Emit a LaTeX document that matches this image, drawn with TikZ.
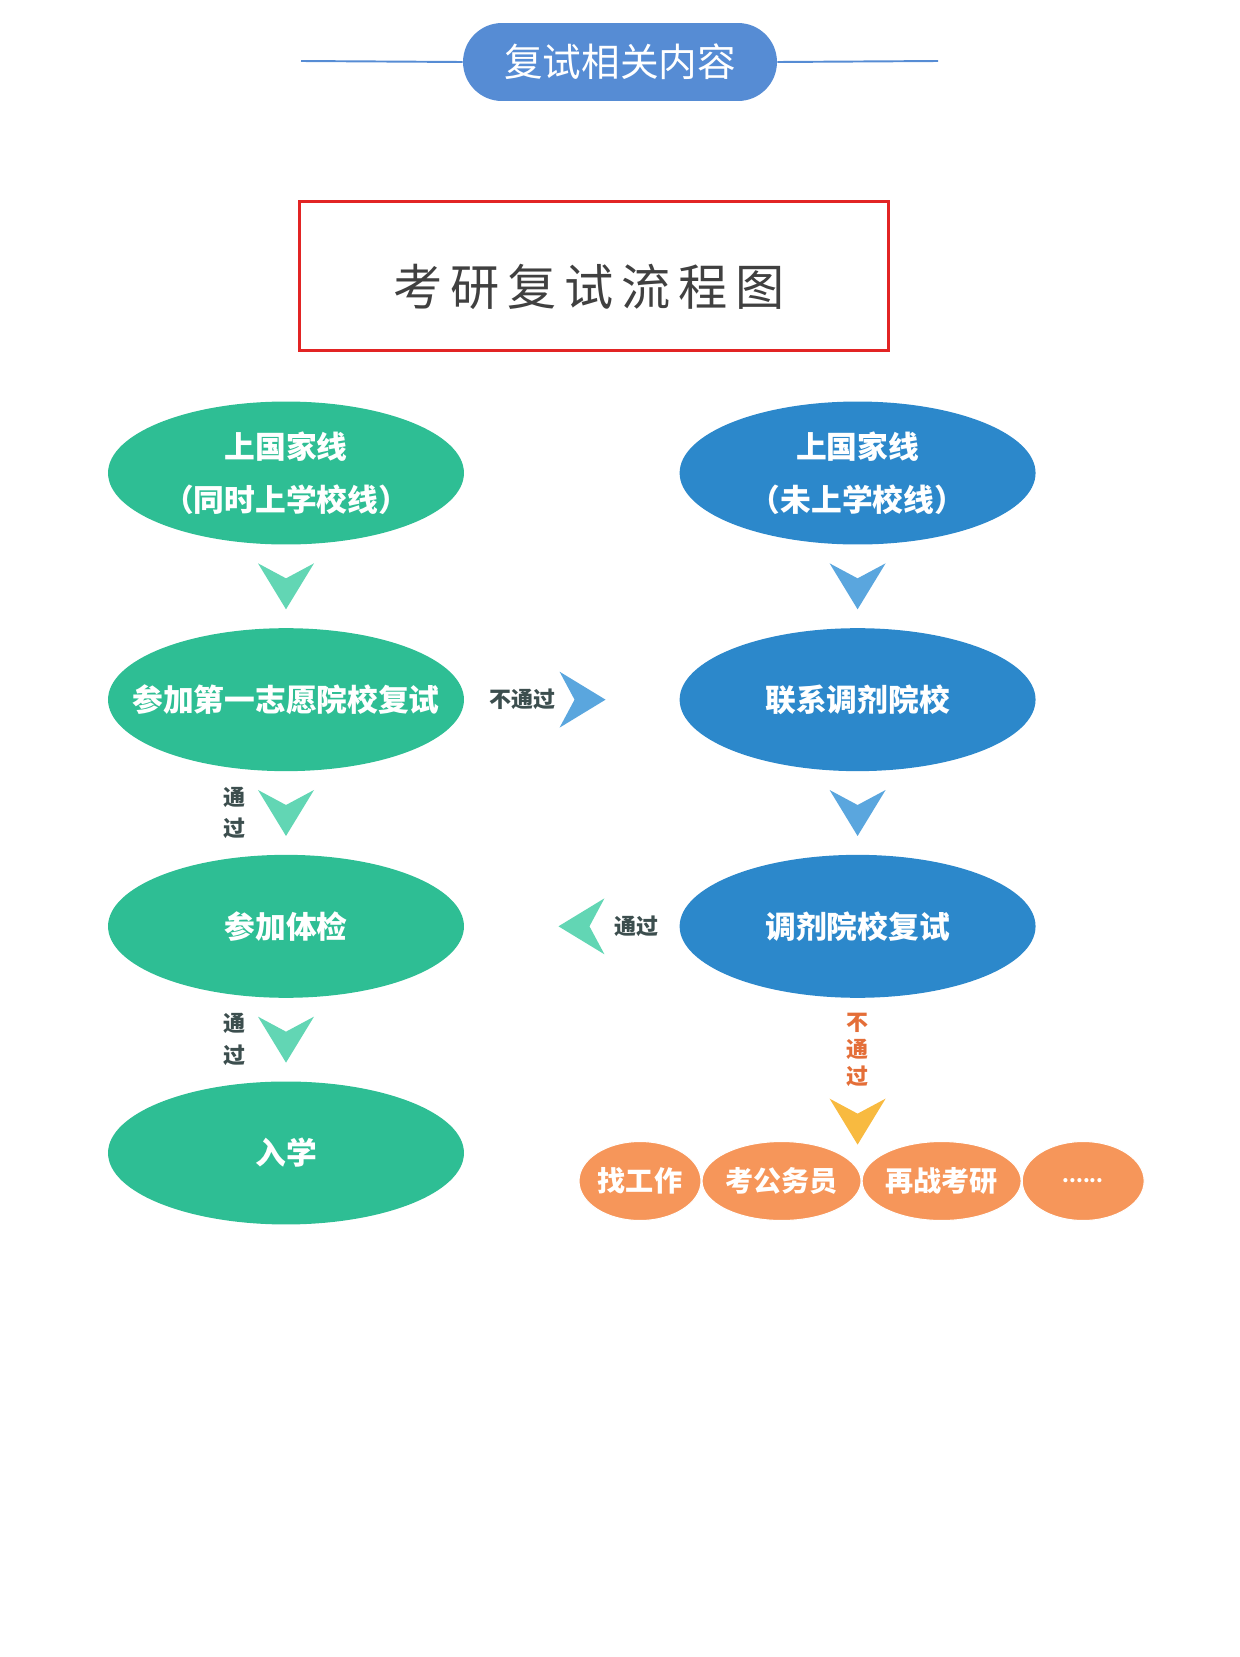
\documentclass[tikz,border=0pt]{standalone}
\usepackage{fontspec}
\setmainfont{Noto Sans CJK SC}
\newfontfamily\cjkwide[LetterSpace=16]{Noto Sans CJK SC}
\usetikzlibrary{positioning, shapes.geometric, calc}
\definecolor{headblue}{RGB}{86,140,212}
\definecolor{passgreen}{RGB}{46,190,148}
\definecolor{chevgreen}{RGB}{98,214,180}
\definecolor{adjblue}{RGB}{44,136,203}
\definecolor{chevblue}{RGB}{90,166,222}
\definecolor{failorange}{RGB}{246,150,90}
\definecolor{chevyellow}{RGB}{248,186,64}
\definecolor{boxred}{RGB}{226,36,36}
\definecolor{labelgray}{RGB}{60,78,78}
\definecolor{titlegray}{RGB}{64,64,64}
\definecolor{notorange}{RGB}{228,110,56}

\begin{document}
\begin{tikzpicture}[x=0.02cm, y=-0.02cm,
    passnode/.style={ellipse, fill=passgreen, minimum width=7.12cm, minimum height=2.86cm, inner sep=0pt, text=white, align=center, font=\fontsize{17.5}{30}\selectfont\bfseries},
    adjnode/.style={passnode, fill=adjblue},
    outnode/.style={ellipse, fill=failorange, draw=white, line width=0.6pt, minimum height=1.58cm, inner sep=0pt, text=white, font=\fontsize{16}{20}\selectfont\bfseries},
    lbl/.style={text=labelgray, align=center, font=\fontsize{12.5}{18}\selectfont\bfseries},
    pill/.style={rectangle, rounded corners=0.78cm, fill=headblue, minimum width=6.28cm, minimum height=1.56cm, text=white, font=\fontsize{22}{26}\selectfont},
    chev/.pic={\fill (-28,-23) -- (0,-8) -- (28,-23) -- (0,23) -- cycle;}
]
\useasboundingbox (0,0) rectangle (1240,1657);
% header
\coordinate (hl) at (301,61);
\coordinate (hr) at (938,61);
\node[pill] (head) at (620,62) {复试相关内容};
\draw[headblue, line width=1.1pt] (hl) -- (head.west);
\draw[headblue, line width=1.1pt] (head.east) -- (hr);
% title
\node[draw=boxred, line width=1.7pt, minimum width=11.8cm, minimum height=3cm] (titlebox) at (594,276) {};
\node[text=titlegray, font=\fontsize{28}{32}\selectfont\cjkwide] (title) at (589,287) {考研复试流程图};
% left column
\node[passnode] (e1) at (286,473) {上国家线\\（同时上学校线）};
\node[passnode, inner xsep=-0.8cm, below=1.66cm of e1] (e2) {参加第一志愿院校复试};
\node[passnode, below=1.66cm of e2] (e3) {参加体检};
\node[passnode, below=1.66cm of e3] (e4) {入学};
% right column
\node[adjnode, right=4.3cm of e1] (b1) {上国家线\\（未上学校线）};
\node[adjnode, right=4.3cm of e2] (b2) {联系调剂院校};
\node[adjnode, right=4.3cm of e3] (b3) {调剂院校复试};
% other ways out
\node[outnode, minimum width=2.44cm] (o1) at (640,1181) {找工作};
\node[outnode, minimum width=3.18cm, right=0cm of o1] (o2) {考公务员};
\node[outnode, minimum width=3.1cm, right=0cm of o2] (o3) {再战考研};
\node[outnode, minimum width=2.44cm, right=0cm of o3] (o4) {\fontsize{11}{12}\selectfont ......};
% chevrons
\coordinate (c1) at ($(e1.south)!0.5!(e2.north)$);
\coordinate (c2) at ($(e2.south)!0.5!(e3.north)$);
\coordinate (c3) at ($(e3.south)!0.5!(e4.north)$);
\coordinate (c4) at ($(b1.south)!0.5!(b2.north)$);
\coordinate (c5) at ($(b2.south)!0.5!(b3.north)$);
\coordinate (c6) at ($(e2.east)!0.55!(b2.west)$);
\coordinate (c7) at ($(e3.east)!0.545!(b3.west)$);
\coordinate (c8) at ([yshift=-2.47cm]b3.south);
\pic[fill=chevgreen] at (c1) {chev};
\pic[fill=chevgreen] at (c2) {chev};
\pic[fill=chevgreen] at (c3) {chev};
\pic[fill=chevblue] at (c4) {chev};
\pic[fill=chevblue] at (c5) {chev};
\pic[fill=chevblue, rotate=90] at (c6) {chev};
\pic[fill=chevgreen, rotate=-90] at (c7) {chev};
\pic[fill=chevyellow] at (c8) {chev};
% labels
\node[lbl] (l2) at ([xshift=-1.04cm]c2) {通\\过};
\node[lbl] (l3) at ([xshift=-1.04cm]c3) {通\\过};
\node[lbl] (l6) at ([xshift=-1.2cm]c6) {不通过};
\node[lbl] (l7) at ([xshift=1.1cm]c7) {通过};
\node[lbl, text=notorange, font=\fontsize{12.5}{15.5}\selectfont\bfseries] (l8) at ([yshift=1.44cm]c8) {不\\通\\过};
\end{tikzpicture}
\end{document}
